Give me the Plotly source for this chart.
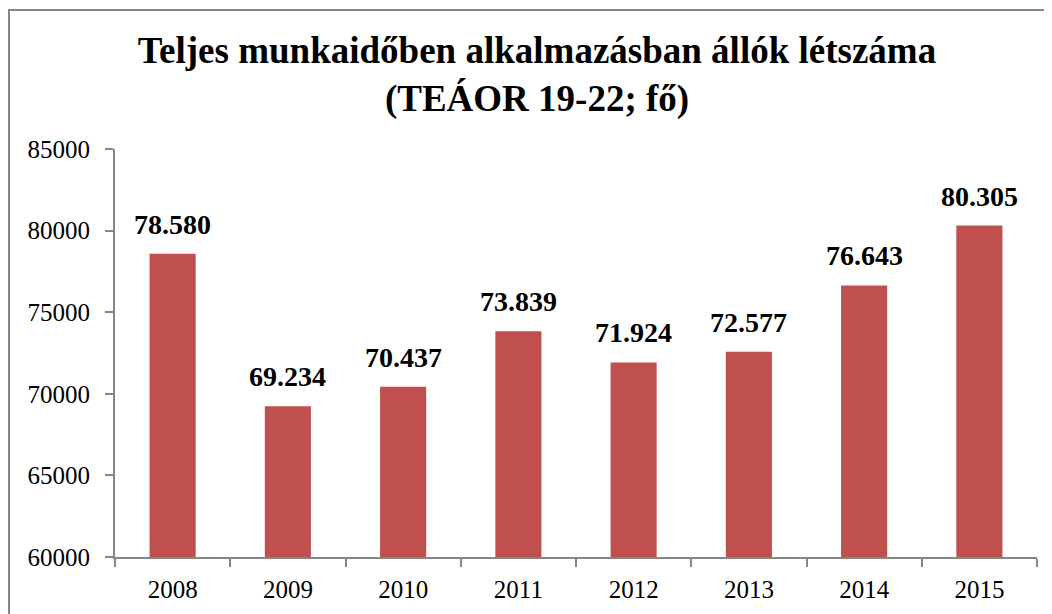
import plotly.graph_objects as go

years = ["2008", "2009", "2010", "2011", "2012", "2013", "2014", "2015"]
values = [78580, 69234, 70437, 73839, 71924, 72577, 76643, 80305]
y_ticks = [60000, 65000, 70000, 75000, 80000, 85000]

BAR_COLOR = "#C0504D"
FONT = "Liberation Serif, Times New Roman, serif"

fig = go.Figure()
fig.add_trace(go.Bar(
    x=years, y=values, marker=dict(color=BAR_COLOR, line=dict(width=0)),
    hoverinfo="x+y",
))

for i, v in enumerate(values):
    fig.add_annotation(
        x=i, y=v, text="<b>" + f"{v:,}".replace(",", ".") + "</b>",
        showarrow=False, yanchor="bottom", yshift=12,
        font=dict(family=FONT, size=28, color="black"),
    )

# page has an 8px body margin; figure sized to fill the rest of the window
W, H = 1044, 606
L, R, T, B = 107, 15, 141, 57
pw, ph = W - L - R, H - T - B

fig.add_shape(
    type="rect", xref="paper", yref="paper",
    x0=(1 - L) / pw, x1=1.2, y0=-0.5, y1=1 + (T - 2) / ph,
    line=dict(color="#868686", width=2), fillcolor="rgba(0,0,0,0)", layer="below",
)

fig.update_layout(
    width=W, height=H,
    margin=dict(l=L, r=R, t=T, b=B),
    paper_bgcolor="white", plot_bgcolor="white",
    bargap=0.6,
    showlegend=False,
    title=dict(
        text="<b>Teljes munkaidőben alkalmazásban állók létszáma<br>(TEÁOR 19-22; fő)</b>",
        x=529 / W, xref="container", xanchor="center",
        y=1 - 55 / H, yref="container", yanchor="middle",
        font=dict(family=FONT, size=37, color="black"),
    ),
    font=dict(family=FONT, color="black"),
)

fig.update_yaxes(
    range=[60000, 85000], tickvals=y_ticks, tickformat="d",
    showgrid=False, zeroline=False,
    showline=True, linecolor="#868686", linewidth=2,
    ticks="outside", ticklen=8, tickcolor="#868686", tickwidth=2,
    tickfont=dict(family=FONT, size=25, color="black"),
    ticklabelstandoff=10,
)
fig.update_xaxes(
    type="category", range=[-0.5, len(years) - 0.5], showgrid=False,
    showline=True, linecolor="#868686", linewidth=2,
    ticks="outside", tickson="boundaries", ticklen=8, tickcolor="#868686", tickwidth=2,
    tickfont=dict(family=FONT, size=25, color="black"),
    tickangle=0,
    ticklabelstandoff=9,
)

fig.write_html("out.html")
